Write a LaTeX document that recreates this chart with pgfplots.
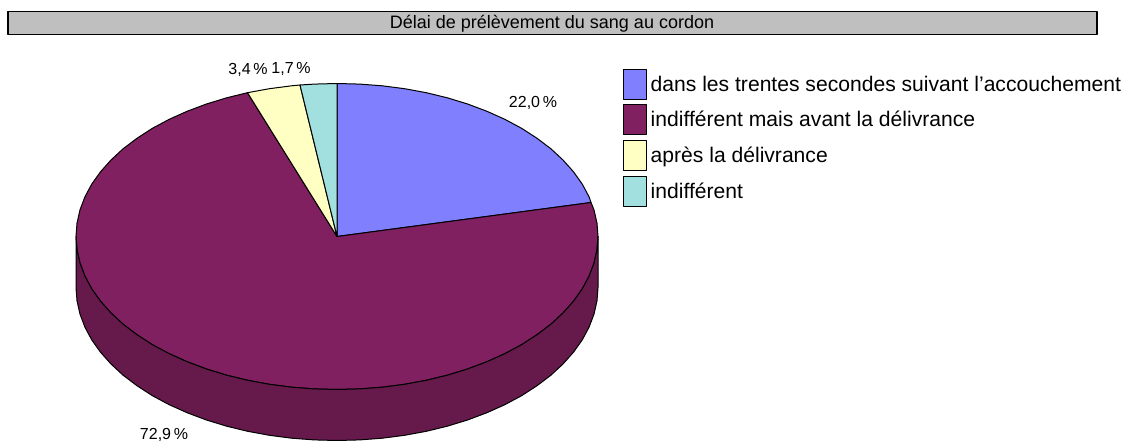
\documentclass[border=0pt]{standalone}
\usepackage{fontspec}
\setmainfont{Liberation Sans}
\usepackage{pgfplots}
\pgfplotsset{compat=1.18}
\definecolor{sliceBlue}{HTML}{8080FF}
\definecolor{slicePlum}{HTML}{802060}
\definecolor{sideplum}{HTML}{661A4C}
\definecolor{sliceYellow}{HTML}{FFFFC4}
\definecolor{sliceTeal}{HTML}{A2E0E0}
\begin{document}
\begin{tikzpicture}
\begin{axis}[
    scale only axis, width=1127pt, height=441pt,
    xmin=0, xmax=1127, ymin=0, ymax=441, y dir=reverse,
    hide axis, no markers, clip=true,
    every axis plot/.append style={draw=black, line width=1pt, line join=round},
    legend image code/.code={\draw[#1] (0pt,-15pt) rectangle (23pt,15pt);},
    legend cell align=left,
    legend style={at={(axis cs:622.5,68.5)}, anchor=north west, draw=none, fill=none,
      inner sep=0pt, row sep=4.7pt, column sep=4pt, nodes={inner sep=0pt},
      font=\fontsize{21.1}{21}\selectfont},
]
% top of the pie, in picture pixels, one polygon per slice
\addplot[fill=sliceBlue] coordinates {(337,236.5) (337,83.5) (359.8,84.1) (382.3,85.8) (404.6,88.7) (426.3,92.7) (447.3,97.8) (467.5,104) (486.7,111.2) (504.8,119.3) (521.6,128.3) (536.9,138.2) (550.8,148.7) (563,160) (573.5,171.8) (582.3,184.2) (589.1,196.9) (591,202.5)} --cycle;
\addplot[fill=slicePlum] coordinates {(337,236.5) (591,202.5) (594,209.9) (597,223.2) (598,236.5) (597,249.8) (594,263.1) (589.1,276.1) (582.3,288.8) (573.5,301.2) (563,313) (550.8,324.3) (536.9,334.8) (521.6,344.7) (504.8,353.7) (486.7,361.8) (467.5,369) (447.3,375.2) (426.3,380.3) (404.6,384.3) (382.3,387.2) (359.8,388.9) (337,389.5) (314.2,388.9) (291.7,387.2) (269.4,384.3) (247.7,380.3) (226.7,375.2) (206.5,369) (187.3,361.8) (169.2,353.7) (152.4,344.7) (137.1,334.8) (123.2,324.3) (111,313) (100.5,301.2) (91.7,288.8) (84.9,276.1) (80,263.1) (77,249.8) (76,236.5) (77,223.2) (80,209.9) (84.9,196.9) (91.7,184.2) (100.5,171.8) (111,160) (123.2,148.7) (137.1,138.2) (152.4,128.3) (169.2,119.3) (187.3,111.2) (206.5,104) (226.7,97.8) (247.5,92.7)} --cycle;
\addplot[fill=sliceYellow] coordinates {(337,236.5) (247.5,92.7) (269.4,88.7) (291.7,85.8) (300,85)} --cycle;
\addplot[fill=sliceTeal] coordinates {(337,236.5) (300,85) (314.2,84.1) (337,83.5)} --cycle;
% side wall of the plum slice
\addplot[fill=sideplum, forget plot] coordinates {(598,236.5) (597,249.8) (594,263.1) (589.1,276.1) (582.3,288.8) (573.5,301.2) (563,313) (550.8,324.3) (536.9,334.8) (521.6,344.7) (504.8,353.7) (486.7,361.8) (467.5,369) (447.3,375.2) (426.3,380.3) (404.6,384.3) (382.3,387.2) (359.8,388.9) (337,389.5) (314.2,388.9) (291.7,387.2) (269.4,384.3) (247.7,380.3) (226.7,375.2) (206.5,369) (187.3,361.8) (169.2,353.7) (152.4,344.7) (137.1,334.8) (123.2,324.3) (111,313) (100.5,301.2) (91.7,288.8) (84.9,276.1) (80,263.1) (77,249.8) (76,236.5)
  (76,287.5) (77,300.8) (80,314.1) (84.9,327.1) (91.7,339.8) (100.5,352.2) (111,364) (123.2,375.3) (137.1,385.8) (152.4,395.7) (169.2,404.7) (187.3,412.8) (206.5,420) (226.7,426.2) (247.7,431.3) (269.4,435.3) (291.7,438.2) (314.2,439.9) (337,440.5) (359.8,439.9) (382.3,438.2) (404.6,435.3) (426.3,431.3) (447.3,426.2) (467.5,420) (486.7,412.8) (504.8,404.7) (521.6,395.7) (536.9,385.8) (550.8,375.3) (563,364) (573.5,352.2) (582.3,339.8) (589.1,327.1) (594,314.1) (597,300.8) (598,287.5)} --cycle;
% title bar
\addplot[fill=black!25, line width=1.5pt, forget plot] coordinates {(8,11.5) (1097,11.5) (1097,34.5) (8,34.5)} --cycle;
% keeps the page as large as the whole picture
\addplot[draw=none, forget plot] coordinates {(0,0) (1127,441)};
\legend{dans les trentes secondes suivant l'accouchement,indifférent mais avant la délivrance,après la délivrance,indifférent}
\node[font=\fontsize{18}{18}\selectfont] at (axis cs:552,23.5) {Délai de prélèvement du sang au cordon};
\node[font=\fontsize{16}{16}\selectfont] at (axis cs:533,103) {22,0\,\%};
\node[font=\fontsize{16}{16}\selectfont] at (axis cs:248,70) {3,4\,\%};
\node[font=\fontsize{16}{16}\selectfont] at (axis cs:291,69) {1,7\,\%};
\node[font=\fontsize{16}{16}\selectfont] at (axis cs:164,435) {72,9\,\%};
\end{axis}
\end{tikzpicture}
\end{document}
